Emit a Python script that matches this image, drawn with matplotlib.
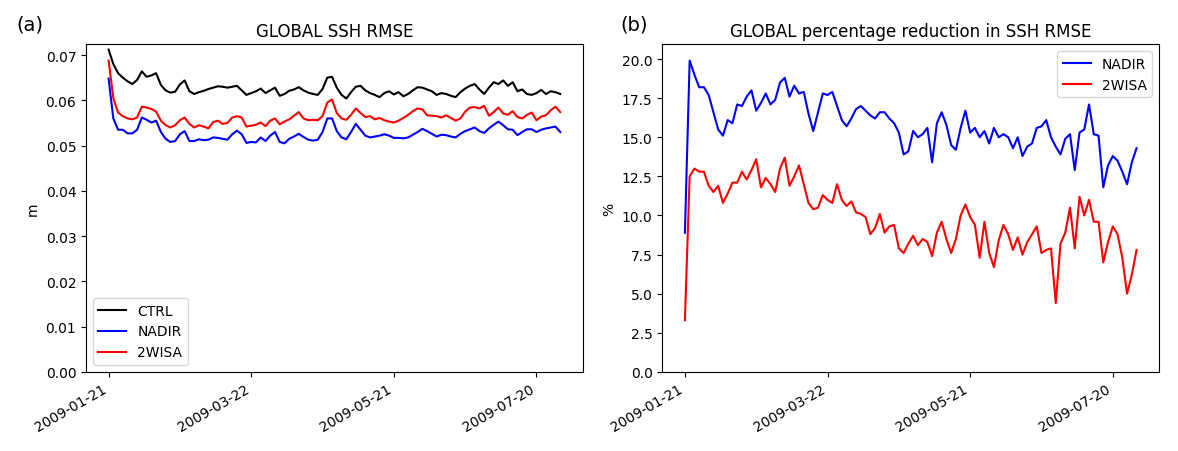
import matplotlib
matplotlib.use('Agg')
import matplotlib.pyplot as plt
import matplotlib.dates as mdates
import numpy as np
import pandas as pd

# #############################################################################
#
# Data (every second day from 2009-01-21)
#
# #############################################################################

dates = pd.date_range('2009-01-21', periods=96, freq='2D')
tick_dates = pd.to_datetime(['2009-01-21', '2009-03-22', '2009-05-21', '2009-07-20'])

# SSH RMSE (m)
ctrl_rmse = [0.0712, 0.0680, 0.0660, 0.0650, 0.0642, 0.0636, 0.0645, 0.0664, 0.0652, 0.0655, 0.0660, 0.0634,
             0.0622, 0.0617, 0.0619, 0.0635, 0.0644, 0.0620, 0.0614, 0.0618, 0.0621, 0.0625, 0.0628, 0.0631,
             0.0630, 0.0628, 0.0630, 0.0632, 0.0622, 0.0612, 0.0616, 0.0620, 0.0626, 0.0616, 0.0622, 0.0628,
             0.0610, 0.0614, 0.0621, 0.0624, 0.0629, 0.0622, 0.0617, 0.0614, 0.0612, 0.0625, 0.0650, 0.0652,
             0.0628, 0.0612, 0.0604, 0.0618, 0.0630, 0.0632, 0.0622, 0.0616, 0.0612, 0.0607, 0.0616, 0.0620,
             0.0613, 0.0618, 0.0609, 0.0614, 0.0622, 0.0629, 0.0628, 0.0624, 0.0620, 0.0612, 0.0616, 0.0614,
             0.0610, 0.0607, 0.0618, 0.0626, 0.0632, 0.0636, 0.0624, 0.0614, 0.0628, 0.0640, 0.0636, 0.0644,
             0.0632, 0.0640, 0.0620, 0.0624, 0.0614, 0.0612, 0.0616, 0.0623, 0.0614, 0.0620, 0.0618, 0.0614]

nadir_rmse = [0.0648, 0.0560, 0.0535, 0.0535, 0.0527, 0.0527, 0.0535, 0.0562, 0.0557, 0.0551, 0.0555, 0.0530,
              0.0515, 0.0508, 0.0510, 0.0525, 0.0532, 0.0510, 0.0510, 0.0514, 0.0512, 0.0513, 0.0518, 0.0517,
              0.0515, 0.0513, 0.0525, 0.0533, 0.0525, 0.0506, 0.0508, 0.0507, 0.0518, 0.0510, 0.0522, 0.0530,
              0.0508, 0.0505, 0.0515, 0.0520, 0.0526, 0.0519, 0.0513, 0.0511, 0.0513, 0.0530, 0.0560, 0.0560,
              0.0532, 0.0518, 0.0514, 0.0530, 0.0548, 0.0535, 0.0522, 0.0518, 0.0520, 0.0522, 0.0525, 0.0522,
              0.0517, 0.0517, 0.0516, 0.0518, 0.0524, 0.0530, 0.0537, 0.0532, 0.0526, 0.0520, 0.0524, 0.0523,
              0.0520, 0.0518, 0.0526, 0.0532, 0.0536, 0.0540, 0.0532, 0.0528, 0.0538, 0.0546, 0.0553, 0.0545,
              0.0536, 0.0535, 0.0523, 0.0530, 0.0536, 0.0536, 0.0530, 0.0535, 0.0538, 0.0540, 0.0542, 0.0530]

wisa_rmse = [0.0688, 0.0605, 0.0573, 0.0565, 0.0560, 0.0558, 0.0562, 0.0586, 0.0584, 0.0581, 0.0575, 0.0555,
             0.0545, 0.0540, 0.0545, 0.0556, 0.0562, 0.0548, 0.0540, 0.0545, 0.0542, 0.0538, 0.0552, 0.0555,
             0.0548, 0.0550, 0.0562, 0.0565, 0.0562, 0.0542, 0.0544, 0.0546, 0.0551, 0.0543, 0.0555, 0.0560,
             0.0547, 0.0553, 0.0558, 0.0566, 0.0574, 0.0560, 0.0556, 0.0557, 0.0556, 0.0565, 0.0595, 0.0602,
             0.0572, 0.0560, 0.0557, 0.0568, 0.0582, 0.0572, 0.0563, 0.0565, 0.0558, 0.0561, 0.0556, 0.0553,
             0.0551, 0.0555, 0.0561, 0.0568, 0.0576, 0.0582, 0.0580, 0.0567, 0.0566, 0.0565, 0.0562, 0.0567,
             0.0561, 0.0555, 0.0560, 0.0575, 0.0584, 0.0585, 0.0582, 0.0588, 0.0566, 0.0574, 0.0584, 0.0571,
             0.0568, 0.0576, 0.0563, 0.0560, 0.0568, 0.0573, 0.0556, 0.0564, 0.0567, 0.0578, 0.0586, 0.0574]

# percentage reduction in SSH RMSE (%)
nadir_pct = [8.9, 19.9, 19.0, 18.2, 18.2, 17.7, 16.6, 15.5, 15.1, 16.1, 15.9, 17.1,
             17.0, 17.6, 18.0, 16.7, 17.2, 17.8, 17.1, 17.4, 18.5, 18.8, 17.6, 18.3,
             17.8, 17.9, 16.5, 15.4, 16.6, 17.8, 17.7, 17.9, 17.0, 16.1, 15.7, 16.2,
             16.8, 17.0, 16.7, 16.4, 16.2, 16.6, 16.6, 16.2, 15.9, 15.3, 13.9, 14.1,
             15.4, 15.0, 15.2, 15.6, 13.4, 15.9, 16.6, 15.8, 14.5, 14.2, 15.6, 16.7,
             15.3, 15.6, 15.0, 15.4, 14.6, 15.6, 15.0, 15.2, 15.0, 14.3, 15.0, 13.8,
             14.4, 14.6, 15.6, 15.7, 16.1, 15.0, 14.4, 13.9, 14.9, 15.2, 12.9, 15.3,
             15.5, 17.1, 15.2, 15.1, 11.8, 13.2, 13.8, 13.5, 12.8, 12.0, 13.4, 14.3]

wisa_pct = [3.3, 12.5, 13.0, 12.8, 12.8, 11.9, 11.5, 11.9, 10.8, 11.4, 12.1, 12.1,
            12.8, 12.3, 12.9, 13.6, 11.8, 12.4, 12.0, 11.5, 13.0, 13.7, 11.9, 12.5,
            13.2, 12.0, 10.8, 10.4, 10.5, 11.3, 11.0, 10.8, 12.0, 11.0, 10.6, 10.9,
            10.2, 10.1, 9.9, 8.8, 9.2, 10.1, 8.9, 9.3, 9.4, 7.9, 7.6, 8.2,
            8.7, 8.1, 8.5, 8.3, 7.4, 8.9, 9.6, 8.5, 7.6, 8.5, 10.0, 10.7,
            9.9, 9.4, 7.3, 9.6, 7.6, 6.7, 8.4, 9.4, 8.8, 7.8, 8.6, 7.5,
            8.3, 8.8, 9.3, 7.6, 7.8, 7.9, 4.4, 8.2, 8.9, 10.5, 7.9, 11.2,
            10.0, 11.0, 9.6, 9.6, 7.0, 8.3, 9.3, 8.8, 7.3, 5.0, 6.2, 7.8]


# #############################################################################
#
# Plotting
#
# #############################################################################

def format_dates(ax):
    '''Date ticks every 60 days, rotated like autofmt_xdate.'''
    ax.set_xticks(tick_dates)
    ax.xaxis.set_major_formatter(mdates.DateFormatter('%Y-%m-%d'))
    for label in ax.get_xticklabels():
        label.set_rotation(30)
        label.set_ha('right')


fig, (ax1, ax2) = plt.subplots(1, 2, figsize=(11.78, 4.52), dpi=100)
fig.subplots_adjust(left=0.073, right=0.984, bottom=0.175, top=0.900, wspace=0.16)

ax1.plot(dates, ctrl_rmse, color='k', label='CTRL')
ax1.plot(dates, nadir_rmse, color='b', label='NADIR')
ax1.plot(dates, wisa_rmse, color='r', label='2WISA')
ax1.set_ylim(0, 0.0724)
ax1.set_ylabel('m')
ax1.set_title('GLOBAL SSH RMSE')
ax1.legend(loc='lower left')
format_dates(ax1)

ax2.plot(dates, nadir_pct, color='b', label='NADIR')
ax2.plot(dates, wisa_pct, color='r', label='2WISA')
ax2.set_ylim(0, 20.95)
ax2.set_ylabel('%')
ax2.set_title('GLOBAL percentage reduction in SSH RMSE')
ax2.legend(loc='upper right')
format_dates(ax2)

fig.text(0.014, 0.945, '(a)', fontsize=14, va='center')
fig.text(0.527, 0.945, '(b)', fontsize=14, va='center')

fig.savefig('out.png', dpi=100)
